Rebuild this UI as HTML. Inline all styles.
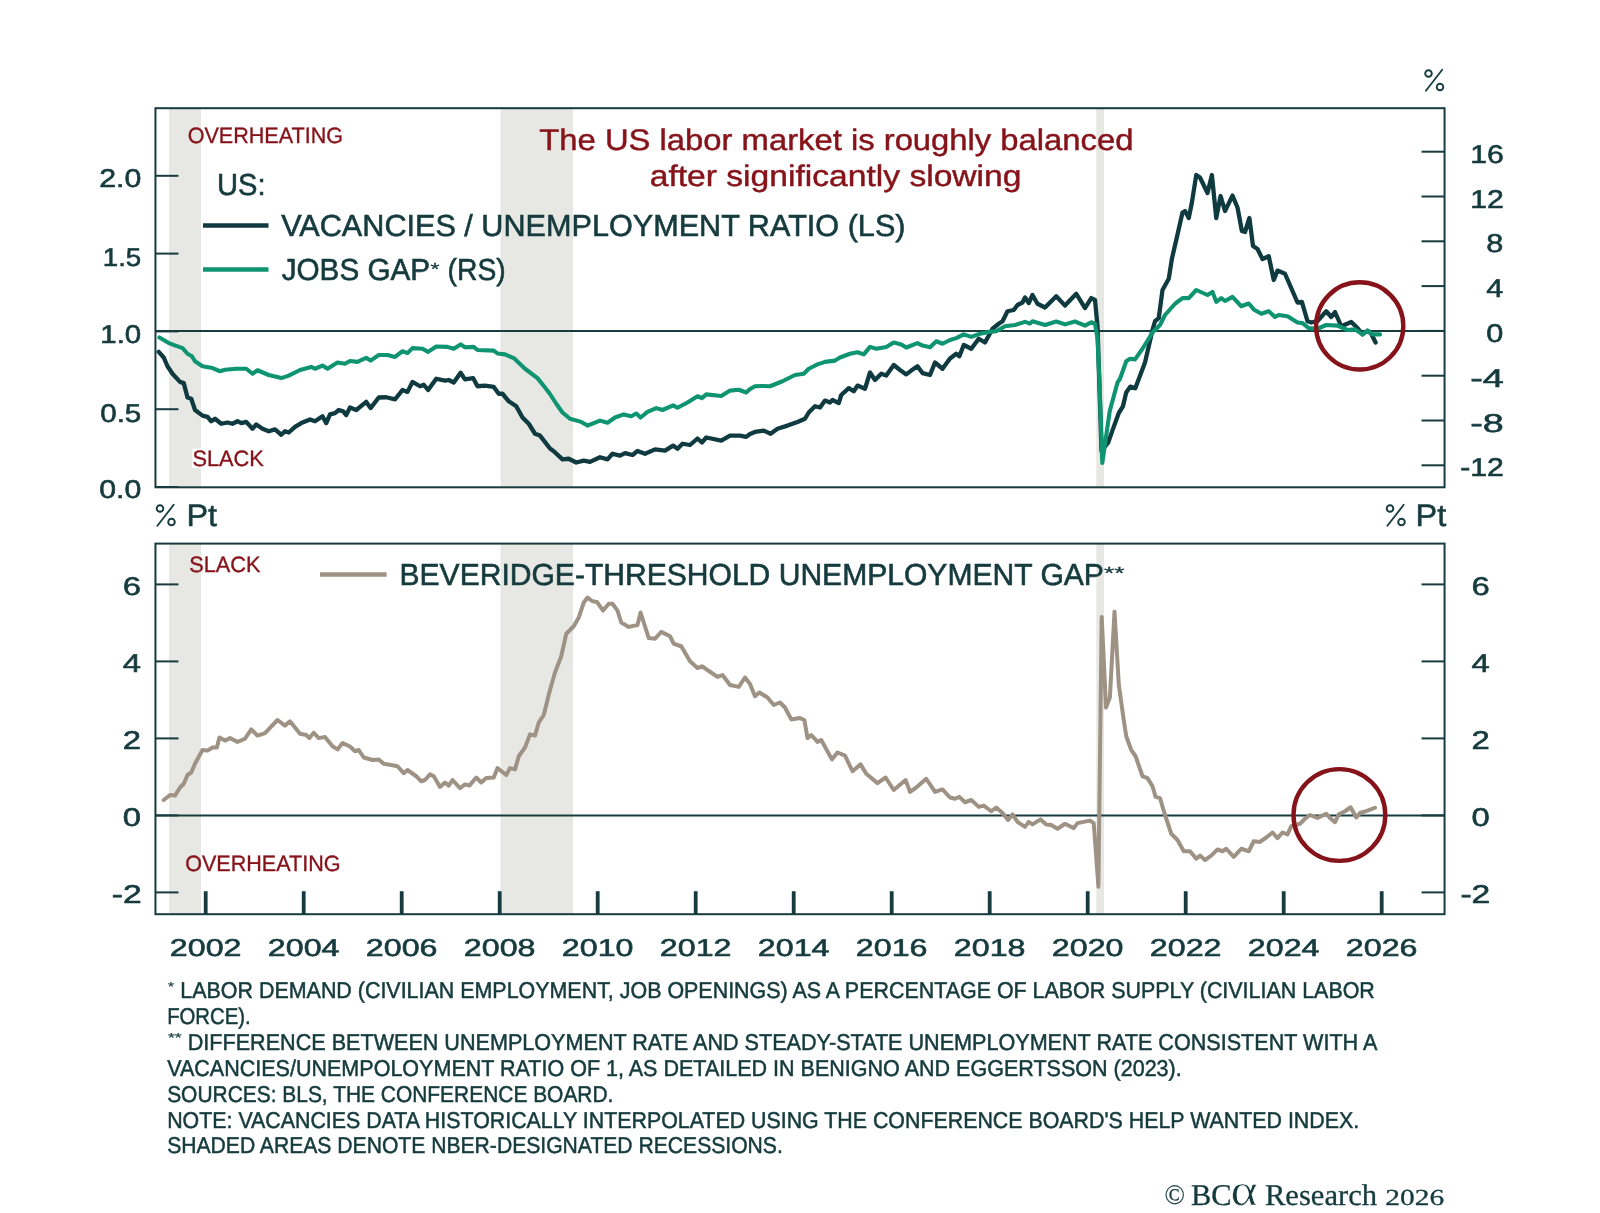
<!DOCTYPE html>
<html><head><meta charset="utf-8"><title>US labor market</title>
<style>html,body{margin:0;padding:0;background:#ffffff;}svg{display:block;will-change:transform;}</style>
</head><body>
<svg width="1600" height="1213" viewBox="0 0 1600 1213" text-rendering="geometricPrecision">
<rect width="1600" height="1213" fill="#ffffff"/>
<rect x="169.00" y="108.20" width="32.00" height="379.10" fill="#e7e8e3"/>
<rect x="169.00" y="543.60" width="32.00" height="370.60" fill="#e7e8e3"/>
<rect x="500.50" y="108.20" width="72.50" height="379.10" fill="#e7e8e3"/>
<rect x="500.50" y="543.60" width="72.50" height="370.60" fill="#e7e8e3"/>
<rect x="1096.30" y="108.20" width="7.70" height="379.10" fill="#e7e8e3"/>
<rect x="1096.30" y="543.60" width="7.70" height="370.60" fill="#e7e8e3"/>
<line x1="155.45" y1="331.1" x2="1444.55" y2="331.1" stroke="#173b3f" stroke-width="2"/>
<line x1="155.45" y1="815.4" x2="1444.55" y2="815.4" stroke="#173b3f" stroke-width="2"/>
<line x1="155.45" y1="175.80" x2="178.45" y2="175.80" stroke="#173b3f" stroke-width="2"/>
<line x1="155.45" y1="253.60" x2="178.45" y2="253.60" stroke="#173b3f" stroke-width="2"/>
<line x1="155.45" y1="331.40" x2="178.45" y2="331.40" stroke="#173b3f" stroke-width="2"/>
<line x1="155.45" y1="409.20" x2="178.45" y2="409.20" stroke="#173b3f" stroke-width="2"/>
<line x1="155.45" y1="487.00" x2="178.45" y2="487.00" stroke="#173b3f" stroke-width="2"/>
<line x1="1421.55" y1="151.70" x2="1444.55" y2="151.70" stroke="#173b3f" stroke-width="2"/>
<line x1="1421.55" y1="196.50" x2="1444.55" y2="196.50" stroke="#173b3f" stroke-width="2"/>
<line x1="1421.55" y1="241.30" x2="1444.55" y2="241.30" stroke="#173b3f" stroke-width="2"/>
<line x1="1421.55" y1="286.10" x2="1444.55" y2="286.10" stroke="#173b3f" stroke-width="2"/>
<line x1="1421.55" y1="330.90" x2="1444.55" y2="330.90" stroke="#173b3f" stroke-width="2"/>
<line x1="1421.55" y1="375.70" x2="1444.55" y2="375.70" stroke="#173b3f" stroke-width="2"/>
<line x1="1421.55" y1="420.50" x2="1444.55" y2="420.50" stroke="#173b3f" stroke-width="2"/>
<line x1="1421.55" y1="465.30" x2="1444.55" y2="465.30" stroke="#173b3f" stroke-width="2"/>
<line x1="155.45" y1="584.40" x2="178.45" y2="584.40" stroke="#173b3f" stroke-width="2"/>
<line x1="1421.55" y1="584.40" x2="1444.55" y2="584.40" stroke="#173b3f" stroke-width="2"/>
<line x1="155.45" y1="661.40" x2="178.45" y2="661.40" stroke="#173b3f" stroke-width="2"/>
<line x1="1421.55" y1="661.40" x2="1444.55" y2="661.40" stroke="#173b3f" stroke-width="2"/>
<line x1="155.45" y1="738.40" x2="178.45" y2="738.40" stroke="#173b3f" stroke-width="2"/>
<line x1="1421.55" y1="738.40" x2="1444.55" y2="738.40" stroke="#173b3f" stroke-width="2"/>
<line x1="155.45" y1="815.40" x2="178.45" y2="815.40" stroke="#173b3f" stroke-width="2"/>
<line x1="1421.55" y1="815.40" x2="1444.55" y2="815.40" stroke="#173b3f" stroke-width="2"/>
<line x1="155.45" y1="892.40" x2="178.45" y2="892.40" stroke="#173b3f" stroke-width="2"/>
<line x1="1421.55" y1="892.40" x2="1444.55" y2="892.40" stroke="#173b3f" stroke-width="2"/>
<line x1="205.70" y1="891.20" x2="205.70" y2="914.20" stroke="#173b3f" stroke-width="3.8"/>
<line x1="303.70" y1="891.20" x2="303.70" y2="914.20" stroke="#173b3f" stroke-width="3.8"/>
<line x1="401.70" y1="891.20" x2="401.70" y2="914.20" stroke="#173b3f" stroke-width="3.8"/>
<line x1="499.70" y1="891.20" x2="499.70" y2="914.20" stroke="#173b3f" stroke-width="3.8"/>
<line x1="597.70" y1="891.20" x2="597.70" y2="914.20" stroke="#173b3f" stroke-width="3.8"/>
<line x1="695.70" y1="891.20" x2="695.70" y2="914.20" stroke="#173b3f" stroke-width="3.8"/>
<line x1="793.70" y1="891.20" x2="793.70" y2="914.20" stroke="#173b3f" stroke-width="3.8"/>
<line x1="891.70" y1="891.20" x2="891.70" y2="914.20" stroke="#173b3f" stroke-width="3.8"/>
<line x1="989.70" y1="891.20" x2="989.70" y2="914.20" stroke="#173b3f" stroke-width="3.8"/>
<line x1="1087.70" y1="891.20" x2="1087.70" y2="914.20" stroke="#173b3f" stroke-width="3.8"/>
<line x1="1185.70" y1="891.20" x2="1185.70" y2="914.20" stroke="#173b3f" stroke-width="3.8"/>
<line x1="1283.70" y1="891.20" x2="1283.70" y2="914.20" stroke="#173b3f" stroke-width="3.8"/>
<line x1="1381.70" y1="891.20" x2="1381.70" y2="914.20" stroke="#173b3f" stroke-width="3.8"/>
<rect x="155.45" y="108.20" width="1289.10" height="379.10" fill="none" stroke="#173b3f" stroke-width="2"/>
<rect x="155.45" y="543.60" width="1289.10" height="370.60" fill="none" stroke="#173b3f" stroke-width="2"/>
<polyline points="158.75,351.90 163.75,357.50 167.50,366.25 172.50,373.75 180.00,381.90 183.75,383.10 187.50,397.50 191.25,398.75 195.00,410.00 202.50,415.60 207.50,416.90 211.25,421.25 215.00,418.75 221.25,423.75 227.50,422.50 232.50,423.75 237.50,421.25 241.25,423.10 246.25,421.90 252.50,428.75 256.25,424.40 262.50,428.75 268.75,431.25 275.00,429.40 281.25,434.75 285.00,431.25 288.75,432.50 295.00,426.90 301.25,423.10 310.00,419.40 315.00,421.25 322.50,416.25 326.25,423.10 330.00,414.40 335.00,413.10 338.75,410.00 343.10,411.25 346.25,415.00 350.00,407.50 356.25,410.00 366.25,401.90 370.60,408.10 378.75,397.50 386.25,397.25 395.00,399.40 402.50,390.00 407.50,391.90 412.50,381.90 420.00,386.25 423.75,384.75 428.10,390.00 436.25,378.75 445.00,380.60 448.75,380.00 453.75,382.50 460.60,372.75 465.00,379.40 473.10,378.10 477.50,386.25 485.00,385.60 493.75,386.90 498.75,393.75 502.50,393.75 508.75,401.25 516.25,406.25 522.50,417.50 528.75,423.75 535.00,433.75 540.00,435.60 550.00,448.50 553.75,451.25 562.50,459.40 568.75,458.75 576.25,462.50 583.75,460.60 590.00,461.90 600.00,457.25 607.50,459.40 612.50,453.75 620.00,455.60 625.00,453.10 632.50,455.00 637.50,451.00 645.00,453.75 655.00,449.40 665.00,450.60 673.10,445.60 677.50,448.75 682.50,443.75 690.00,445.00 697.50,438.50 701.90,442.50 706.25,437.50 721.25,440.60 730.00,435.60 740.00,435.60 746.25,436.90 750.00,434.00 755.00,431.90 763.75,430.60 770.60,433.75 777.50,428.75 787.50,425.60 797.50,421.90 805.00,418.75 808.75,412.50 815.00,406.25 820.00,407.50 825.00,400.60 830.00,402.50 832.50,400.00 838.75,403.10 841.25,395.00 848.75,388.10 853.75,391.25 857.50,385.60 865.00,388.75 870.00,372.50 875.00,380.00 881.25,373.75 886.25,375.60 893.75,365.00 900.00,370.00 906.25,374.40 911.25,370.60 917.50,366.25 922.50,373.10 930.00,375.00 935.00,362.50 942.50,368.75 950.00,358.50 956.25,353.75 959.40,356.25 963.75,345.00 971.25,348.75 978.75,338.75 985.00,342.50 992.50,328.75 998.75,323.75 1002.50,321.25 1007.50,311.25 1013.75,310.00 1017.50,305.00 1022.50,302.50 1025.00,297.50 1028.75,303.10 1032.50,295.00 1037.50,303.75 1045.00,307.50 1056.25,296.25 1065.00,305.60 1076.25,293.75 1085.00,308.10 1091.25,298.10 1095.00,300.00 1097.50,326.25 1101.50,451.00 1108.10,442.70 1112.20,431.10 1118.80,413.00 1122.90,406.40 1126.20,392.40 1130.40,386.60 1135.30,388.25 1145.00,362.50 1152.50,330.00 1155.00,321.25 1158.75,318.10 1162.50,290.00 1168.75,278.75 1171.90,258.75 1176.25,240.00 1182.50,212.50 1185.00,211.00 1188.75,218.00 1191.90,202.50 1196.25,175.00 1200.00,177.50 1207.50,193.00 1211.90,175.00 1216.25,218.00 1220.60,196.00 1225.00,211.00 1232.50,195.60 1237.50,207.50 1241.90,231.00 1245.00,232.00 1249.40,218.00 1253.00,246.00 1257.50,249.00 1262.50,259.00 1268.75,256.25 1273.75,280.00 1277.50,270.60 1285.00,273.75 1297.50,302.50 1301.90,301.90 1307.50,321.25 1311.25,322.50 1317.50,321.00 1326.25,311.25 1331.25,317.00 1335.00,312.00 1341.25,326.25 1351.25,322.00 1357.50,328.00 1362.50,334.40 1367.50,330.60 1371.25,333.75 1375.60,342.50" fill="none" stroke="#0f3a40" stroke-width="4.3" stroke-linejoin="round" stroke-linecap="round"/>
<polyline points="159.40,337.50 168.75,343.10 182.50,348.10 187.50,353.75 191.90,356.25 195.00,361.25 202.50,366.25 212.50,368.10 220.00,371.25 225.00,369.75 236.25,368.75 246.25,368.75 252.50,373.75 257.50,370.25 268.75,375.00 281.25,378.10 288.75,375.60 300.00,370.00 311.25,366.90 315.00,368.75 322.50,365.60 327.50,368.75 337.50,362.50 345.00,363.75 350.00,361.00 357.50,361.90 366.25,357.75 370.60,360.60 378.75,355.00 387.50,355.00 395.00,356.90 402.50,351.25 407.50,353.10 412.50,348.10 422.50,348.75 428.10,351.90 436.25,346.50 447.50,346.90 453.75,348.75 460.60,344.40 465.00,347.25 473.75,346.90 477.50,350.00 493.75,350.60 497.50,353.50 505.00,354.40 513.75,358.10 525.00,368.75 537.50,378.10 545.00,387.50 550.00,394.00 556.25,403.75 562.50,412.50 570.00,418.75 581.25,421.90 587.50,425.60 600.00,420.60 607.50,422.75 615.00,417.50 623.75,414.40 631.25,416.25 636.25,413.50 640.60,417.50 647.50,411.90 656.25,408.10 662.50,410.00 673.10,405.40 677.50,407.75 687.50,402.50 697.50,396.25 701.90,398.10 706.25,394.40 721.25,396.00 730.00,390.60 738.75,389.75 746.25,392.50 750.00,389.00 755.00,386.25 762.50,386.00 770.00,386.25 782.50,381.25 795.00,375.00 803.75,373.75 808.75,368.75 817.50,364.40 825.00,361.90 835.00,360.60 840.00,357.50 850.00,353.75 857.50,352.25 863.75,354.40 870.00,346.90 876.25,348.75 886.25,346.90 893.75,342.50 901.25,344.40 906.25,347.50 917.50,343.10 922.50,345.60 930.00,347.25 936.25,341.25 942.50,343.75 950.00,340.00 956.25,338.10 963.75,334.40 971.25,336.90 980.00,333.75 988.75,331.90 996.25,331.25 1005.00,326.25 1015.00,325.00 1025.00,321.90 1030.00,323.50 1032.50,321.25 1045.00,325.00 1056.25,321.50 1065.00,324.40 1075.00,321.50 1085.00,325.60 1091.25,322.25 1095.00,323.75 1097.50,338.75 1099.40,380.00 1102.30,463.00 1109.70,411.30 1117.50,382.50 1120.00,378.75 1126.25,361.25 1130.00,358.80 1135.00,359.40 1142.50,348.75 1152.50,332.50 1160.00,325.00 1165.00,315.00 1175.00,303.75 1182.50,298.10 1188.75,298.10 1196.25,290.00 1207.50,295.00 1212.50,291.90 1216.25,301.90 1221.25,298.10 1225.00,301.00 1232.50,296.90 1241.25,306.25 1248.75,303.50 1253.75,309.40 1261.25,313.75 1268.75,311.25 1275.00,316.90 1278.75,315.00 1287.50,316.25 1297.50,322.50 1302.50,323.10 1308.75,328.10 1317.50,328.75 1326.25,325.00 1337.50,325.60 1347.50,330.00 1355.00,329.40 1362.50,334.40 1367.50,330.60 1372.50,334.40 1380.00,334.40" fill="none" stroke="#0e9470" stroke-width="4.1" stroke-linejoin="round" stroke-linecap="round"/>
<polyline points="163.75,800.00 170.00,795.00 175.00,795.60 180.00,787.50 183.75,783.75 187.50,775.00 191.25,772.50 195.00,763.75 202.50,750.00 207.50,750.60 212.50,747.50 216.90,747.50 219.40,737.50 225.00,740.60 230.00,738.10 237.50,741.90 245.00,738.75 251.25,729.40 257.50,735.60 265.00,733.10 277.50,720.00 285.00,725.60 290.00,721.25 300.00,733.75 306.25,735.00 309.40,738.10 313.75,732.75 318.75,738.10 325.00,736.90 332.50,746.25 337.50,749.40 342.50,743.10 350.00,746.50 355.00,751.25 358.75,750.00 363.75,757.50 372.50,760.00 378.75,759.40 383.75,763.75 391.25,765.00 397.50,766.25 403.75,773.10 407.50,770.00 416.25,776.25 421.25,781.25 425.00,780.00 430.00,774.40 433.75,776.25 440.00,786.90 445.00,782.50 448.75,785.60 452.50,780.00 460.00,788.10 465.00,784.40 469.40,785.60 476.25,777.50 481.25,782.50 486.25,778.10 493.75,777.50 497.50,768.10 506.25,775.00 510.00,768.10 515.00,769.40 518.75,756.25 525.00,747.50 530.00,734.40 535.00,735.60 538.75,722.50 543.75,715.00 550.00,690.00 555.00,672.50 561.25,656.25 566.25,633.75 573.75,626.25 578.75,617.50 583.75,602.50 587.50,597.50 592.50,601.25 596.90,601.90 603.10,610.60 608.75,603.75 612.50,603.75 617.50,610.60 621.25,622.50 628.75,626.90 637.50,625.00 640.60,612.50 643.75,622.50 648.75,638.10 655.00,638.75 661.25,631.90 670.00,636.25 673.75,643.75 681.25,646.25 690.00,661.25 697.50,668.10 701.90,666.25 717.50,676.90 722.50,675.00 730.00,685.00 738.75,686.90 745.00,677.50 750.00,684.00 755.00,696.25 759.40,692.50 767.50,697.50 773.75,705.00 780.00,702.50 785.00,707.50 791.25,719.40 800.00,718.10 804.40,720.00 807.50,738.10 811.25,735.00 817.50,741.90 821.25,740.00 831.90,759.40 837.50,752.50 845.00,755.60 852.50,771.25 860.60,764.40 866.25,773.75 877.50,783.10 885.60,777.50 893.75,790.00 905.60,780.00 910.00,791.90 916.25,787.50 926.25,778.75 935.00,791.90 942.50,789.40 950.00,797.50 955.00,798.75 959.40,796.90 965.00,802.25 971.25,800.00 978.75,806.90 983.75,805.60 991.25,811.25 996.25,807.50 1002.50,813.10 1008.10,820.00 1012.50,814.40 1017.50,821.90 1025.00,826.90 1028.75,821.90 1032.50,824.40 1040.60,819.40 1046.25,824.40 1051.25,825.00 1057.50,828.75 1065.00,823.75 1073.75,828.10 1077.50,823.10 1090.00,820.60 1093.75,823.10 1098.40,886.70 1101.70,616.90 1106.00,707.60 1109.90,697.40 1114.50,611.70 1118.80,684.60 1123.75,720.00 1126.25,736.25 1131.25,750.00 1135.60,756.25 1142.50,776.25 1147.50,778.10 1152.50,786.25 1155.60,796.90 1160.00,798.10 1165.00,815.00 1171.25,833.75 1177.50,840.00 1183.75,851.25 1190.00,851.25 1196.25,858.75 1200.00,855.60 1205.00,860.00 1211.25,855.60 1217.50,849.40 1222.50,851.25 1226.25,848.75 1233.75,856.90 1241.25,848.75 1248.75,851.25 1253.75,841.25 1260.00,841.90 1266.25,837.50 1272.50,832.50 1277.50,838.10 1282.50,832.50 1287.50,834.40 1291.25,826.25 1300.00,823.75 1305.00,818.75 1310.00,815.00 1317.50,818.00 1326.25,813.75 1330.00,818.00 1335.00,822.25 1338.75,814.40 1345.00,811.25 1350.60,807.25 1356.25,817.50 1360.00,813.00 1367.50,810.60 1375.00,807.75" fill="none" stroke="#9e9284" stroke-width="4.0" stroke-linejoin="round" stroke-linecap="round"/>
<circle cx="1359.7" cy="325.9" r="43.6" fill="none" stroke="#86131a" stroke-width="4.4"/>
<circle cx="1339.4" cy="815.0" r="45.9" fill="none" stroke="#86131a" stroke-width="4.4"/>
<line x1="203" y1="225.5" x2="268.5" y2="225.5" stroke="#0f3a40" stroke-width="4.5"/>
<line x1="203" y1="269.5" x2="268.5" y2="269.5" stroke="#0e9470" stroke-width="4.5"/>
<line x1="320" y1="574.4" x2="386.6" y2="574.4" stroke="#9e9284" stroke-width="4.5"/>
<text x="187.64" y="143.20" font-size="22.17" fill="#86131a" stroke="#86131a" stroke-width="0.35" font-family='"Liberation Sans", sans-serif' font-weight="normal" textLength="155.47" lengthAdjust="spacingAndGlyphs">OVERHEATING</text>
<rect x="192.2" y="448.6" width="12" height="19.6" fill="#ffffff"/>
<text x="192.49" y="465.90" font-size="22.17" fill="#86131a" stroke="#86131a" stroke-width="0.35" font-family='"Liberation Sans", sans-serif' font-weight="normal" textLength="71.32" lengthAdjust="spacingAndGlyphs">SLACK</text>
<text x="189.29" y="572.40" font-size="22.17" fill="#86131a" stroke="#86131a" stroke-width="0.35" font-family='"Liberation Sans", sans-serif' font-weight="normal" textLength="71.22" lengthAdjust="spacingAndGlyphs">SLACK</text>
<text x="185.14" y="871.10" font-size="22.17" fill="#86131a" stroke="#86131a" stroke-width="0.35" font-family='"Liberation Sans", sans-serif' font-weight="normal" textLength="155.37" lengthAdjust="spacingAndGlyphs">OVERHEATING</text>
<text x="539.31" y="150.20" font-size="29.80" fill="#86131a" stroke="#86131a" stroke-width="0.45" font-family='"Liberation Sans", sans-serif' font-weight="normal" textLength="594.18" lengthAdjust="spacingAndGlyphs">The US labor market is roughly balanced</text>
<text x="649.71" y="185.90" font-size="29.80" fill="#86131a" stroke="#86131a" stroke-width="0.45" font-family='"Liberation Sans", sans-serif' font-weight="normal" textLength="371.78" lengthAdjust="spacingAndGlyphs">after significantly slowing</text>
<text x="216.98" y="195.45" font-size="30.38" fill="#163b3e" stroke="#163b3e" stroke-width="0.60" font-family='"Liberation Sans", sans-serif' font-weight="normal" textLength="48.54" lengthAdjust="spacingAndGlyphs">US:</text>
<text x="281.18" y="235.60" font-size="30.38" fill="#163b3e" stroke="#163b3e" stroke-width="0.60" font-family='"Liberation Sans", sans-serif' font-weight="normal" textLength="624.34" lengthAdjust="spacingAndGlyphs">VACANCIES / UNEMPLOYMENT RATIO (LS)</text>
<text x="281.68" y="280.30" font-size="30.38" fill="#163b3e" stroke="#163b3e" stroke-width="0.60" font-family='"Liberation Sans", sans-serif' font-weight="normal" textLength="148.44" lengthAdjust="spacingAndGlyphs">JOBS GAP</text>
<text x="430.48" y="274.50" font-size="17.44" fill="#163b3e" stroke="#163b3e" stroke-width="0.30" font-family='"Liberation Sans", sans-serif' font-weight="normal" textLength="9.05" lengthAdjust="spacingAndGlyphs">*</text>
<text x="447.58" y="280.30" font-size="30.38" fill="#163b3e" stroke="#163b3e" stroke-width="0.60" font-family='"Liberation Sans", sans-serif' font-weight="normal" textLength="58.14" lengthAdjust="spacingAndGlyphs">(RS)</text>
<text x="399.48" y="584.90" font-size="30.38" fill="#163b3e" stroke="#163b3e" stroke-width="0.60" font-family='"Liberation Sans", sans-serif' font-weight="normal" textLength="704.44" lengthAdjust="spacingAndGlyphs">BEVERIDGE-THRESHOLD UNEMPLOYMENT GAP</text>
<text x="1103.93" y="579.00" font-size="17.44" fill="#163b3e" stroke="#163b3e" stroke-width="0.30" font-family='"Liberation Sans", sans-serif' font-weight="normal" textLength="20.44" lengthAdjust="spacingAndGlyphs">**</text>
<circle cx="160.00" cy="508.50" r="3.3" fill="none" stroke="#163b3e" stroke-width="1.9"/>
<circle cx="171.50" cy="522.00" r="3.3" fill="none" stroke="#163b3e" stroke-width="1.9"/>
<line x1="173.70" y1="504.80" x2="157.40" y2="525.70" stroke="#163b3e" stroke-width="1.8" stroke-linecap="round"/>
<text x="186.44" y="525.65" font-size="31.11" fill="#163b3e" stroke="#163b3e" stroke-width="0.50" font-family='"Liberation Sans", sans-serif' font-weight="normal" textLength="30.61" lengthAdjust="spacingAndGlyphs">Pt</text>
<circle cx="1390.00" cy="508.50" r="3.3" fill="none" stroke="#163b3e" stroke-width="1.9"/>
<circle cx="1401.50" cy="522.00" r="3.3" fill="none" stroke="#163b3e" stroke-width="1.9"/>
<line x1="1403.70" y1="504.80" x2="1387.40" y2="525.70" stroke="#163b3e" stroke-width="1.8" stroke-linecap="round"/>
<text x="1415.64" y="525.65" font-size="31.11" fill="#163b3e" stroke="#163b3e" stroke-width="0.50" font-family='"Liberation Sans", sans-serif' font-weight="normal" textLength="30.71" lengthAdjust="spacingAndGlyphs">Pt</text>
<circle cx="1428.50" cy="73.50" r="3.3" fill="none" stroke="#163b3e" stroke-width="1.9"/>
<circle cx="1440.00" cy="87.00" r="3.3" fill="none" stroke="#163b3e" stroke-width="1.9"/>
<line x1="1442.20" y1="69.80" x2="1425.90" y2="90.70" stroke="#163b3e" stroke-width="1.8" stroke-linecap="round"/>
<text x="99.21" y="187.05" font-size="25.73" fill="#163b3e" stroke="#163b3e" stroke-width="0.60" font-family='"Liberation Sans", sans-serif' font-weight="normal" textLength="42.07" lengthAdjust="spacingAndGlyphs">2.0</text>
<text x="102.71" y="266.05" font-size="25.73" fill="#163b3e" stroke="#163b3e" stroke-width="0.60" font-family='"Liberation Sans", sans-serif' font-weight="normal" textLength="38.57" lengthAdjust="spacingAndGlyphs">1.5</text>
<text x="100.31" y="342.65" font-size="25.73" fill="#163b3e" stroke="#163b3e" stroke-width="0.60" font-family='"Liberation Sans", sans-serif' font-weight="normal" textLength="40.97" lengthAdjust="spacingAndGlyphs">1.0</text>
<text x="100.21" y="421.65" font-size="25.73" fill="#163b3e" stroke="#163b3e" stroke-width="0.60" font-family='"Liberation Sans", sans-serif' font-weight="normal" textLength="41.07" lengthAdjust="spacingAndGlyphs">0.5</text>
<text x="99.21" y="498.25" font-size="25.73" fill="#163b3e" stroke="#163b3e" stroke-width="0.60" font-family='"Liberation Sans", sans-serif' font-weight="normal" textLength="42.07" lengthAdjust="spacingAndGlyphs">0.0</text>
<text x="1470.21" y="162.75" font-size="25.73" fill="#163b3e" stroke="#163b3e" stroke-width="0.60" font-family='"Liberation Sans", sans-serif' font-weight="normal" textLength="33.57" lengthAdjust="spacingAndGlyphs">16</text>
<text x="1470.21" y="207.55" font-size="25.73" fill="#163b3e" stroke="#163b3e" stroke-width="0.60" font-family='"Liberation Sans", sans-serif' font-weight="normal" textLength="33.57" lengthAdjust="spacingAndGlyphs">12</text>
<text x="1486.23" y="252.35" font-size="25.73" fill="#163b3e" stroke="#163b3e" stroke-width="0.60" font-family='"Liberation Sans", sans-serif' font-weight="normal" textLength="17.04" lengthAdjust="spacingAndGlyphs">8</text>
<text x="1486.23" y="297.15" font-size="25.73" fill="#163b3e" stroke="#163b3e" stroke-width="0.60" font-family='"Liberation Sans", sans-serif' font-weight="normal" textLength="17.04" lengthAdjust="spacingAndGlyphs">4</text>
<text x="1486.23" y="341.95" font-size="25.73" fill="#163b3e" stroke="#163b3e" stroke-width="0.60" font-family='"Liberation Sans", sans-serif' font-weight="normal" textLength="17.04" lengthAdjust="spacingAndGlyphs">0</text>
<text x="1470.21" y="386.75" font-size="25.73" fill="#163b3e" stroke="#163b3e" stroke-width="0.60" font-family='"Liberation Sans", sans-serif' font-weight="normal" textLength="33.57" lengthAdjust="spacingAndGlyphs">-4</text>
<text x="1470.21" y="431.55" font-size="25.73" fill="#163b3e" stroke="#163b3e" stroke-width="0.60" font-family='"Liberation Sans", sans-serif' font-weight="normal" textLength="33.57" lengthAdjust="spacingAndGlyphs">-8</text>
<text x="1460.21" y="476.35" font-size="25.73" fill="#163b3e" stroke="#163b3e" stroke-width="0.60" font-family='"Liberation Sans", sans-serif' font-weight="normal" textLength="43.57" lengthAdjust="spacingAndGlyphs">-12</text>
<text x="122.83" y="595.05" font-size="25.73" fill="#163b3e" stroke="#163b3e" stroke-width="0.60" font-family='"Liberation Sans", sans-serif' font-weight="normal" textLength="18.24" lengthAdjust="spacingAndGlyphs">6</text>
<text x="1471.53" y="595.05" font-size="25.73" fill="#163b3e" stroke="#163b3e" stroke-width="0.60" font-family='"Liberation Sans", sans-serif' font-weight="normal" textLength="18.24" lengthAdjust="spacingAndGlyphs">6</text>
<text x="122.83" y="672.05" font-size="25.73" fill="#163b3e" stroke="#163b3e" stroke-width="0.60" font-family='"Liberation Sans", sans-serif' font-weight="normal" textLength="18.24" lengthAdjust="spacingAndGlyphs">4</text>
<text x="1471.53" y="672.05" font-size="25.73" fill="#163b3e" stroke="#163b3e" stroke-width="0.60" font-family='"Liberation Sans", sans-serif' font-weight="normal" textLength="18.24" lengthAdjust="spacingAndGlyphs">4</text>
<text x="122.83" y="749.05" font-size="25.73" fill="#163b3e" stroke="#163b3e" stroke-width="0.60" font-family='"Liberation Sans", sans-serif' font-weight="normal" textLength="18.24" lengthAdjust="spacingAndGlyphs">2</text>
<text x="1471.53" y="749.05" font-size="25.73" fill="#163b3e" stroke="#163b3e" stroke-width="0.60" font-family='"Liberation Sans", sans-serif' font-weight="normal" textLength="18.24" lengthAdjust="spacingAndGlyphs">2</text>
<text x="122.83" y="826.05" font-size="25.73" fill="#163b3e" stroke="#163b3e" stroke-width="0.60" font-family='"Liberation Sans", sans-serif' font-weight="normal" textLength="18.24" lengthAdjust="spacingAndGlyphs">0</text>
<text x="1471.53" y="826.05" font-size="25.73" fill="#163b3e" stroke="#163b3e" stroke-width="0.60" font-family='"Liberation Sans", sans-serif' font-weight="normal" textLength="18.24" lengthAdjust="spacingAndGlyphs">0</text>
<text x="111.71" y="903.05" font-size="25.73" fill="#163b3e" stroke="#163b3e" stroke-width="0.60" font-family='"Liberation Sans", sans-serif' font-weight="normal" textLength="29.87" lengthAdjust="spacingAndGlyphs">-2</text>
<text x="1460.41" y="903.05" font-size="25.73" fill="#163b3e" stroke="#163b3e" stroke-width="0.60" font-family='"Liberation Sans", sans-serif' font-weight="normal" textLength="29.87" lengthAdjust="spacingAndGlyphs">-2</text>
<text x="169.88" y="956.40" font-size="24.42" fill="#163b3e" stroke="#163b3e" stroke-width="0.60" font-family='"Liberation Sans", sans-serif' font-weight="normal" textLength="71.64" lengthAdjust="spacingAndGlyphs">2002</text>
<text x="267.88" y="956.40" font-size="24.42" fill="#163b3e" stroke="#163b3e" stroke-width="0.60" font-family='"Liberation Sans", sans-serif' font-weight="normal" textLength="71.64" lengthAdjust="spacingAndGlyphs">2004</text>
<text x="365.88" y="956.40" font-size="24.42" fill="#163b3e" stroke="#163b3e" stroke-width="0.60" font-family='"Liberation Sans", sans-serif' font-weight="normal" textLength="71.64" lengthAdjust="spacingAndGlyphs">2006</text>
<text x="463.88" y="956.40" font-size="24.42" fill="#163b3e" stroke="#163b3e" stroke-width="0.60" font-family='"Liberation Sans", sans-serif' font-weight="normal" textLength="71.64" lengthAdjust="spacingAndGlyphs">2008</text>
<text x="561.88" y="956.40" font-size="24.42" fill="#163b3e" stroke="#163b3e" stroke-width="0.60" font-family='"Liberation Sans", sans-serif' font-weight="normal" textLength="71.64" lengthAdjust="spacingAndGlyphs">2010</text>
<text x="659.88" y="956.40" font-size="24.42" fill="#163b3e" stroke="#163b3e" stroke-width="0.60" font-family='"Liberation Sans", sans-serif' font-weight="normal" textLength="71.64" lengthAdjust="spacingAndGlyphs">2012</text>
<text x="757.88" y="956.40" font-size="24.42" fill="#163b3e" stroke="#163b3e" stroke-width="0.60" font-family='"Liberation Sans", sans-serif' font-weight="normal" textLength="71.64" lengthAdjust="spacingAndGlyphs">2014</text>
<text x="855.88" y="956.40" font-size="24.42" fill="#163b3e" stroke="#163b3e" stroke-width="0.60" font-family='"Liberation Sans", sans-serif' font-weight="normal" textLength="71.64" lengthAdjust="spacingAndGlyphs">2016</text>
<text x="953.88" y="956.40" font-size="24.42" fill="#163b3e" stroke="#163b3e" stroke-width="0.60" font-family='"Liberation Sans", sans-serif' font-weight="normal" textLength="71.64" lengthAdjust="spacingAndGlyphs">2018</text>
<text x="1051.88" y="956.40" font-size="24.42" fill="#163b3e" stroke="#163b3e" stroke-width="0.60" font-family='"Liberation Sans", sans-serif' font-weight="normal" textLength="71.64" lengthAdjust="spacingAndGlyphs">2020</text>
<text x="1149.88" y="956.40" font-size="24.42" fill="#163b3e" stroke="#163b3e" stroke-width="0.60" font-family='"Liberation Sans", sans-serif' font-weight="normal" textLength="71.64" lengthAdjust="spacingAndGlyphs">2022</text>
<text x="1247.88" y="956.40" font-size="24.42" fill="#163b3e" stroke="#163b3e" stroke-width="0.60" font-family='"Liberation Sans", sans-serif' font-weight="normal" textLength="71.64" lengthAdjust="spacingAndGlyphs">2024</text>
<text x="1345.88" y="956.40" font-size="24.42" fill="#163b3e" stroke="#163b3e" stroke-width="0.60" font-family='"Liberation Sans", sans-serif' font-weight="normal" textLength="71.64" lengthAdjust="spacingAndGlyphs">2026</text>
<text x="167.91" y="990.50" font-size="13.08" fill="#163b3e" stroke="#163b3e" stroke-width="0.20" font-family='"Liberation Sans", sans-serif' font-weight="normal" textLength="5.98" lengthAdjust="spacingAndGlyphs">*</text>
<text x="180.36" y="998.30" font-size="22.75" fill="#163b3e" stroke="#163b3e" stroke-width="0.50" font-family='"Liberation Sans", sans-serif' font-weight="normal" textLength="1194.47" lengthAdjust="spacingAndGlyphs">LABOR DEMAND (CIVILIAN EMPLOYMENT, JOB OPENINGS) AS A PERCENTAGE OF LABOR SUPPLY (CIVILIAN LABOR</text>
<text x="167.16" y="1024.40" font-size="22.75" fill="#163b3e" stroke="#163b3e" stroke-width="0.50" font-family='"Liberation Sans", sans-serif' font-weight="normal" textLength="83.47" lengthAdjust="spacingAndGlyphs">FORCE).</text>
<text x="167.95" y="1042.00" font-size="13.08" fill="#163b3e" stroke="#163b3e" stroke-width="0.20" font-family='"Liberation Sans", sans-serif' font-weight="normal" textLength="13.71" lengthAdjust="spacingAndGlyphs">**</text>
<text x="187.76" y="1049.60" font-size="22.75" fill="#163b3e" stroke="#163b3e" stroke-width="0.50" font-family='"Liberation Sans", sans-serif' font-weight="normal" textLength="1189.67" lengthAdjust="spacingAndGlyphs">DIFFERENCE BETWEEN UNEMPLOYMENT RATE AND STEADY-STATE UNEMPLOYMENT RATE CONSISTENT WITH A</text>
<text x="167.16" y="1075.90" font-size="22.75" fill="#163b3e" stroke="#163b3e" stroke-width="0.50" font-family='"Liberation Sans", sans-serif' font-weight="normal" textLength="1014.57" lengthAdjust="spacingAndGlyphs">VACANCIES/UNEMPOLOYMENT RATIO OF 1, AS DETAILED IN BENIGNO AND EGGERTSSON (2023).</text>
<text x="167.16" y="1101.60" font-size="22.75" fill="#163b3e" stroke="#163b3e" stroke-width="0.50" font-family='"Liberation Sans", sans-serif' font-weight="normal" textLength="446.27" lengthAdjust="spacingAndGlyphs">SOURCES: BLS, THE CONFERENCE BOARD.</text>
<text x="167.16" y="1127.80" font-size="22.75" fill="#163b3e" stroke="#163b3e" stroke-width="0.50" font-family='"Liberation Sans", sans-serif' font-weight="normal" textLength="1191.97" lengthAdjust="spacingAndGlyphs">NOTE: VACANCIES DATA HISTORICALLY INTERPOLATED USING THE CONFERENCE BOARD'S HELP WANTED INDEX.</text>
<text x="167.16" y="1153.10" font-size="22.75" fill="#163b3e" stroke="#163b3e" stroke-width="0.50" font-family='"Liberation Sans", sans-serif' font-weight="normal" textLength="615.67" lengthAdjust="spacingAndGlyphs">SHADED AREAS DENOTE NBER-DESIGNATED RECESSIONS.</text>
<text x="1164.40" y="1203.90" font-size="28.25" fill="#163b3e" stroke="#163b3e" stroke-width="0.20" font-family='"Liberation Serif", serif' font-weight="normal" textLength="20.45" lengthAdjust="spacingAndGlyphs">©</text>
<text x="1190.90" y="1204.60" font-size="30.09" fill="#163b3e" stroke="#163b3e" stroke-width="0.30" font-family='"Liberation Serif", serif' font-weight="normal" textLength="40.61" lengthAdjust="spacingAndGlyphs">BC</text>
<text x="1230.5" y="1204.9" font-size="44.78" fill="#163b3e" stroke="#ffffff" stroke-width="0.55" font-family='"Liberation Serif", serif' textLength="27" lengthAdjust="spacingAndGlyphs">α</text>
<text x="1264.90" y="1204.60" font-size="30.09" fill="#163b3e" stroke="#163b3e" stroke-width="0.30" font-family='"Liberation Serif", serif' font-weight="normal" textLength="112.21" lengthAdjust="spacingAndGlyphs">Research</text>
<text x="1385.25" y="1204.60" font-size="22.91" fill="#163b3e" stroke="#163b3e" stroke-width="0.30" font-family='"Liberation Serif", serif' font-weight="normal" textLength="58.89" lengthAdjust="spacingAndGlyphs">2026</text>
</svg>
</body></html>
